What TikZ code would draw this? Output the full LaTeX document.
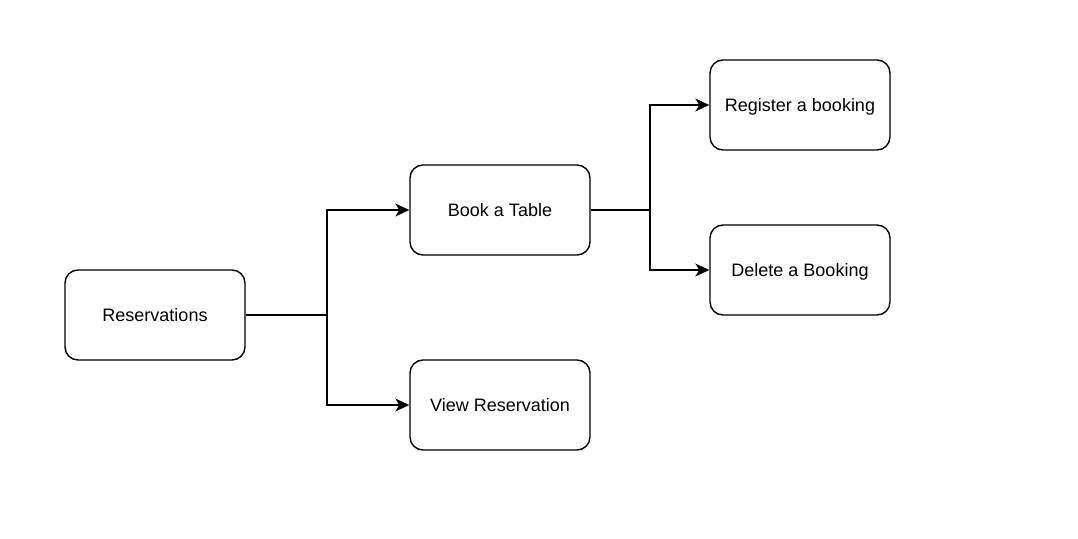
\documentclass[tikz,border=0pt]{standalone}
\usepackage{fontspec}
\setmainfont{Liberation Sans}
\usetikzlibrary{arrows.meta}
\begin{document}
\begin{tikzpicture}[x=1pt,y=-1pt,
  box/.style={draw, line width=1.4pt, rounded corners=13pt, minimum width=180pt, minimum height=90pt, font=\fontsize{18}{20}\selectfont, inner sep=0pt, text depth=0pt, text height=13pt},
  conn/.style={line width=1.4pt, -{Stealth[length=14pt,width=13pt,inset=4pt]}},
  plain/.style={line width=1.4pt}]
\useasboundingbox (0,0) rectangle (1078,538);
\node[box] (res) at (155,315) {Reservations};
\node[box] (book) at (500,210) {Book a Table};
\node[box] (view) at (500,405) {View Reservation};
\node[box] (reg) at (800,105) {Register a booking};
\node[box] (del) at (800,270) {Delete a Booking};
\coordinate (j1) at (327,315);
\coordinate (j2) at (650,210);
\draw[plain] (res.east) -- (j1);
\draw[conn] (j1) |- (book.west);
\draw[conn] (j1) |- (view.west);
\draw[plain] (book.east) -- (j2);
\draw[conn] (j2) |- (reg.west);
\draw[conn] (j2) |- (del.west);
\end{tikzpicture}
\end{document}
